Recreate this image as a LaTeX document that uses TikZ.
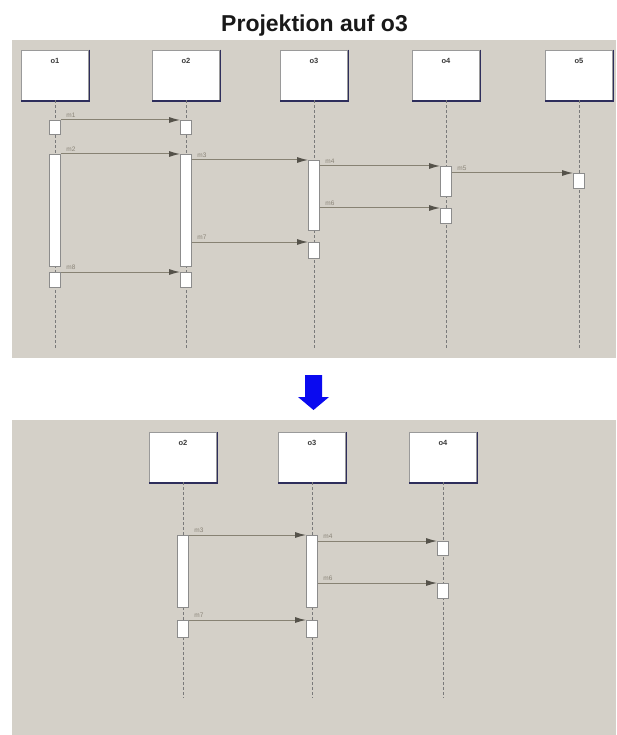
\documentclass[tikz,border=0pt]{standalone}
\usepackage{fontspec}
\setmainfont{Liberation Sans}
\usetikzlibrary{arrows.meta}
\definecolor{panelgray}{HTML}{D4D0C8}
\definecolor{boxgray}{HTML}{9A9A9A}
\definecolor{boxshadow}{HTML}{2E2E5C}
\definecolor{lifegray}{HTML}{7A7A7A}
\definecolor{bargray}{HTML}{8C8C8C}
\definecolor{msgline}{HTML}{878273}
\definecolor{tipgray}{HTML}{55524A}
\definecolor{labelgray}{HTML}{8A8478}
\definecolor{objtext}{HTML}{3A3A3A}
\definecolor{arrowblue}{HTML}{0A0AF0}
\begin{document}
\begin{tikzpicture}[x=1pt,y=-1pt,
  objbox/.style={rectangle, draw=boxgray, fill=white, line width=0.5pt,
    minimum width=67pt, minimum height=50pt, inner sep=0pt},
  objname/.style={font=\bfseries\fontsize{7.5}{8}\selectfont, text=objtext, inner sep=0pt},
  shadowline/.style={draw=boxshadow, line width=1.4pt},
  lifeline/.style={draw=lifegray, line width=0.9pt, dash pattern=on 3pt off 2pt},
  actbar/.style={rectangle, draw=bargray, fill=white, line width=0.8pt,
    minimum width=11pt, inner sep=0pt, anchor=north},
  msg/.style={draw=msgline, line width=1pt, -{Latex[length=11pt,width=6pt,color=tipgray]}},
  msglabel/.style={font=\fontsize{6.5}{7}\selectfont, text=labelgray, inner sep=0pt,
    anchor=south west, pos=0, xshift=5pt, yshift=2pt},
]
\useasboundingbox (0,0) rectangle (616,735);
\fill[white] (0,0) rectangle (616,735);

% title
\node[font=\bfseries\fontsize{23}{26}\selectfont, text=black!90, anchor=base, inner sep=0pt]
  (title) at (314.5,32) {Projektion auf o3};

% ---------------- upper diagram ----------------
\fill[panelgray] (12,40) rectangle (616,358);

\foreach \n/\x in {1/55,2/186,3/314,4/446,5/579} {
  \node[objbox] (top\n) at (\x,75) {};
  \draw[shadowline] ([xshift=0.7pt]top\n.north east) -- ([xshift=0.7pt,yshift=-0.7pt]top\n.south east)
    -- ([yshift=-0.7pt]top\n.south west);
  \node[objname] (topname\n) at (\x,61) {o\n};
  \coordinate (topend\n) at (\x,350);
  \draw[lifeline] (top\n) -- (topend\n);
}

% activation bars
\node[actbar, minimum height=14pt]  (a1) at (55,120) {};
\node[actbar, minimum height=112pt] (a2) at (55,154) {};
\node[actbar, minimum height=15pt]  (a3) at (55,272) {};
\node[actbar, minimum height=14pt]  (b1) at (186,120) {};
\node[actbar, minimum height=112pt] (b2) at (186,154) {};
\node[actbar, minimum height=15pt]  (b3) at (186,272) {};
\node[actbar, minimum height=70pt]  (c1) at (314,160) {};
\node[actbar, minimum height=16pt]  (c2) at (314,242) {};
\node[actbar, minimum height=30pt]  (d1) at (446,166) {};
\node[actbar, minimum height=15pt]  (d2) at (446,208) {};
\node[actbar, minimum height=15pt]  (e1) at (579,173) {};

% messages
\draw[msg] (a1.north east) -- node[msglabel] {m1} (b1.north west);
\draw[msg] (a2.north east) -- node[msglabel] {m2} (b2.north west);
\draw[msg] (b2.east |- c1.north) -- node[msglabel] {m3} (c1.north west);
\draw[msg] (c1.east |- d1.north) -- node[msglabel] {m4} (d1.north west);
\draw[msg] (d1.east |- e1.north) -- node[msglabel] {m5} (e1.north west);
\draw[msg] (c1.east |- d2.north) -- node[msglabel] {m6} (d2.north west);
\draw[msg] (b2.east |- c2.north) -- node[msglabel] {m7} (c2.north west);
\draw[msg] (a3.north east) -- node[msglabel] {m8} (b3.north west);

% ---------------- projection arrow ----------------
\fill[arrowblue] (305,375) -- (322,375) -- (322,397) -- (329,397) -- (313.5,410)
  -- (298,397) -- (305,397) -- cycle;

% ---------------- lower diagram ----------------
\fill[panelgray] (12,420) rectangle (616,735);

\foreach \n/\x in {2/183,3/312,4/443} {
  \node[objbox] (bot\n) at (\x,457) {};
  \draw[shadowline] ([xshift=0.7pt]bot\n.north east) -- ([xshift=0.7pt,yshift=-0.7pt]bot\n.south east)
    -- ([yshift=-0.7pt]bot\n.south west);
  \node[objname] (botname\n) at (\x,443) {o\n};
  \coordinate (botend\n) at (\x,698);
  \draw[lifeline] (bot\n) -- (botend\n);
}

\node[actbar, minimum height=72pt] (f1) at (183,535) {};
\node[actbar, minimum height=17pt] (f2) at (183,620) {};
\node[actbar, minimum height=72pt] (g1) at (312,535) {};
\node[actbar, minimum height=17pt] (g2) at (312,620) {};
\node[actbar, minimum height=14pt] (h1) at (443,541) {};
\node[actbar, minimum height=15pt] (h2) at (443,583) {};

\draw[msg] (f1.north east) -- node[msglabel] {m3} (g1.north west);
\draw[msg] (g1.east |- h1.north) -- node[msglabel] {m4} (h1.north west);
\draw[msg] (g1.east |- h2.north) -- node[msglabel] {m6} (h2.north west);
\draw[msg] (f2.north east) -- node[msglabel] {m7} (g2.north west);
\end{tikzpicture}
\end{document}
